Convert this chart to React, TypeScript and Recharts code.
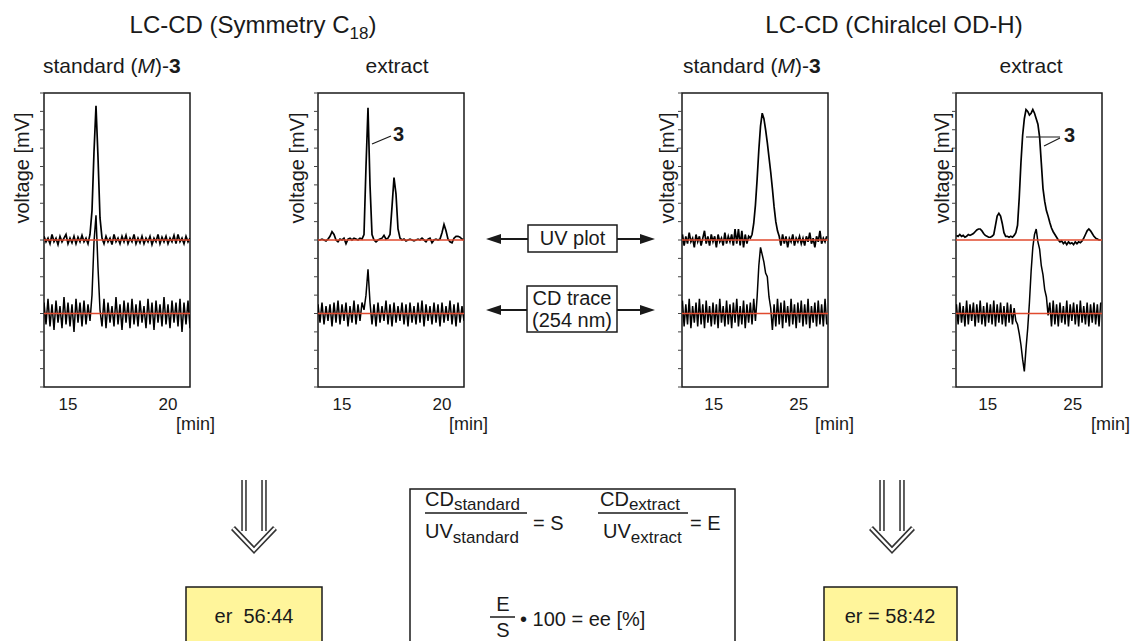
import { LineChart, Line, XAxis, YAxis, ReferenceLine, ReferenceArea } from "recharts";

const FONT = '"Liberation Sans", Arial, Helvetica, sans-serif';
const INK = "#1a1a1a";
const BASE = "#e04a2e";

// sampling times [min]
const T_C18 = [
  13.8, 13.9, 14.0, 14.1, 14.2, 14.3, 14.4, 14.5, 14.6, 14.7,
  14.8, 14.9, 15.0, 15.1, 15.2, 15.3, 15.4, 15.5, 15.6, 15.7,
  15.8, 15.9, 16.0, 16.1, 16.2, 16.3, 16.4, 16.5, 16.6, 16.7,
  16.8, 16.9, 17.0, 17.1, 17.2, 17.3, 17.4, 17.5, 17.6, 17.7,
  17.8, 17.9, 18.0, 18.1, 18.2, 18.3, 18.4, 18.5, 18.6, 18.7,
  18.8, 18.9, 19.0, 19.1, 19.2, 19.3, 19.4, 19.5, 19.6, 19.7,
  19.8, 19.9, 20.0, 20.1, 20.2, 20.3, 20.4, 20.5, 20.6, 20.7,
  20.8, 20.9, 21.0, 21.1,
];
const T_OD = [
  11.3, 11.5, 11.7, 11.9, 12.1, 12.3, 12.5, 12.7, 12.9, 13.1,
  13.3, 13.5, 13.7, 13.9, 14.1, 14.3, 14.5, 14.7, 14.9, 15.1,
  15.3, 15.5, 15.7, 15.9, 16.1, 16.3, 16.5, 16.7, 16.9, 17.1,
  17.3, 17.5, 17.7, 17.9, 18.1, 18.3, 18.5, 18.7, 18.9, 19.1,
  19.3, 19.5, 19.7, 19.9, 20.1, 20.3, 20.5, 20.7, 20.9, 21.1,
  21.3, 21.5, 21.7, 21.9, 22.1, 22.3, 22.5, 22.7, 22.9, 23.1,
  23.3, 23.5, 23.7, 23.9, 24.1, 24.3, 24.5, 24.7, 24.9, 25.1,
  25.3, 25.5, 25.7, 25.9, 26.1, 26.3, 26.5, 26.7, 26.9, 27.1,
  27.3, 27.5, 27.7, 27.9, 28.1, 28.3,
];

// Symmetry C18, standard (M)-3 : UV offset 8, CD offset 4
const UV_STD_C18 = [
  8.2, 7.9, 8.1, 7.8, 8.3, 7.9, 8.1, 7.75, 8.2, 7.9,
  8.1, 8.3, 7.8, 8.1, 7.85, 8.2, 7.8, 8.15, 7.9, 8.25,
  7.9, 8.1, 7.8, 8.3, 9.6, 12.8, 15.3, 12.5, 9.2, 8.1,
  7.8, 8.2, 7.9, 8.1, 7.75, 8.3, 7.9, 8.1, 7.8, 8.2,
  7.9, 8.25, 7.8, 8.1, 7.9, 8.3, 7.8, 8.1, 7.85, 8.2,
  7.8, 8.1, 7.9, 8.2, 7.75, 8.1, 7.9, 8.3, 7.8, 8.15,
  7.9, 8.2, 7.8, 8.1, 7.9, 8.25, 7.8, 8.3, 7.9, 8.1,
  7.8, 8.2, 7.9, 8.1,
];
const CD_STD_C18 = [
  4.6, 3.4, 4.8, 3.3, 4.5, 3.1, 4.7, 3.5, 4.4, 3.2,
  4.9, 3.4, 4.6, 3.3, 4.5, 3.0, 4.8, 3.5, 4.6, 3.3,
  4.7, 3.4, 4.5, 3.6, 5.0, 7.9, 9.35, 6.5, 4.2, 3.3,
  4.8, 3.2, 4.6, 3.5, 4.4, 3.3, 4.9, 3.4, 4.5, 3.1,
  4.7, 3.5, 4.6, 3.2, 4.8, 3.4, 4.5, 3.3, 4.7, 3.5,
  4.4, 3.2, 4.8, 3.4, 4.6, 3.1, 4.7, 3.5, 4.5, 3.3,
  4.9, 3.4, 4.5, 3.2, 4.7, 3.5, 4.6, 3.3, 4.8, 3.0,
  4.6, 3.4, 4.7, 3.2,
];

// Symmetry C18, extract
const UV_EXT_C18 = [
  8.0, 8.0, 8.05, 8.0, 7.95, 8.05, 8.2, 8.45, 8.3, 8.0,
  7.9, 8.05, 8.0, 8.1, 7.8, 8.05, 8.1, 8.0, 8.1, 8.05,
  8.0, 8.1, 8.05, 8.3, 12.0, 15.2, 11.0, 8.3, 8.0, 7.9,
  8.0, 8.05, 8.1, 8.25, 8.05, 8.1, 8.3, 9.8, 11.4, 10.5,
  8.6, 8.1, 8.0, 8.05, 7.95, 8.0, 8.05, 8.0, 7.95, 8.0,
  8.05, 8.0, 8.1, 8.0, 7.9, 8.05, 8.1, 7.85, 8.0, 8.05,
  8.0, 8.05, 8.4, 8.85, 8.5, 8.05, 7.9, 7.85, 8.1, 8.2,
  8.2, 8.15, 8.05, 8.0,
];
const CD_EXT_C18 = [
  4.5, 3.5, 4.6, 3.4, 4.4, 3.6, 4.5, 3.3, 4.6, 3.5,
  4.7, 3.4, 4.5, 3.6, 4.6, 3.3, 4.4, 3.5, 4.7, 3.4,
  4.5, 3.6, 4.6, 4.2, 5.0, 6.4, 4.6, 3.4, 4.5, 3.3,
  4.6, 3.5, 4.4, 3.6, 4.7, 3.4, 4.5, 3.3, 4.6, 3.5,
  4.4, 3.6, 4.6, 3.4, 4.5, 3.3, 4.6, 3.5, 4.4, 3.4,
  4.6, 3.5, 4.7, 3.3, 4.5, 3.6, 4.4, 3.4, 4.6, 3.5,
  4.5, 3.3, 4.6, 3.5, 4.4, 3.6, 4.7, 3.4, 4.5, 3.3,
  4.6, 3.5, 4.4, 3.6,
];

// Chiralcel OD-H, standard (M)-3
const UV_STD_OD = [
  8.3, 7.7, 8.2, 7.8, 8.4, 7.9, 8.1, 7.6, 8.3, 7.9,
  8.2, 7.7, 8.1, 8.5, 7.8, 8.2, 7.7, 8.3, 7.9, 8.2,
  7.6, 8.3, 7.9, 8.1, 7.7, 8.4, 7.8, 8.2, 7.9, 8.3,
  7.7, 8.6, 7.8, 8.6, 7.7, 8.5, 7.6, 8.3, 7.8, 8.2,
  8.1, 8.3, 8.9, 9.9, 11.3, 12.9, 14.2, 14.9, 14.6, 14.0,
  13.3, 12.5, 11.7, 10.8, 9.8, 9.0, 8.5, 8.2, 7.7, 8.3,
  7.8, 8.2, 7.6, 8.1, 7.9, 8.3, 7.7, 8.1, 7.9, 8.2,
  7.8, 8.1, 7.7, 8.2, 7.9, 8.4, 7.8, 8.1, 7.6, 8.2,
  7.9, 8.5, 7.8, 8.1, 7.9, 8.2,
];
const CD_STD_OD = [
  4.7, 3.3, 4.5, 3.4, 4.8, 3.2, 4.4, 3.5, 4.6, 3.3,
  4.8, 3.4, 4.5, 3.2, 4.7, 3.5, 4.4, 3.3, 4.6, 3.4,
  4.5, 3.2, 4.8, 3.5, 4.4, 3.3, 4.7, 3.4, 4.5, 3.2,
  4.6, 3.5, 4.8, 3.3, 4.4, 3.4, 4.7, 3.2, 4.5, 3.5,
  4.6, 3.4, 4.8, 3.6, 4.9, 6.6, 7.6, 7.2, 6.8, 6.2,
  6.0, 4.9, 4.3, 3.1, 4.5, 3.3, 4.8, 3.4, 4.6, 3.2,
  4.7, 3.5, 4.4, 3.3, 4.8, 3.4, 4.5, 3.2, 4.6, 3.5,
  4.7, 3.3, 4.5, 3.4, 4.8, 3.2, 4.4, 3.5, 4.6, 3.3,
  4.7, 3.4, 4.5, 3.3, 4.8, 3.4,
];

// Chiralcel OD-H, extract
const UV_EXT_OD = [
  8.25, 8.2, 8.3, 8.2, 8.25, 8.15, 8.2, 8.3, 8.25, 8.3,
  8.35, 8.45, 8.55, 8.6, 8.6, 8.5, 8.35, 8.25, 8.2, 8.15,
  8.15, 8.2, 8.3, 8.8, 9.3, 9.45, 9.3, 8.9, 8.4, 8.2,
  8.2, 8.15, 8.2, 8.15, 8.25, 8.4, 8.8, 10.3, 12.2, 13.7,
  14.6, 15.1, 15.0, 14.8, 14.9, 15.1, 14.9, 14.6, 14.3, 13.6,
  12.2, 10.8, 10.1, 9.6, 9.3, 8.95, 8.65, 8.45, 8.3, 8.15,
  8.0, 7.9, 7.95, 7.8, 7.9, 7.75, 7.9, 7.8, 7.85, 7.75,
  7.9, 7.8, 7.9, 7.85, 7.95, 8.1, 8.3, 8.5, 8.6, 8.5,
  8.35, 8.2, 8.1, 8.05, 8.0, 8.0,
];
const CD_EXT_OD = [
  4.5, 3.4, 4.6, 3.5, 4.4, 3.3, 4.7, 3.4, 4.5, 3.6,
  4.6, 3.3, 4.5, 3.5, 4.7, 3.4, 4.4, 3.3, 4.6, 3.5,
  4.5, 3.4, 4.7, 3.3, 4.5, 3.5, 4.6, 3.4, 4.4, 3.3,
  4.6, 3.5, 4.5, 3.4, 4.3, 3.6, 3.4, 2.9, 2.3, 1.5,
  0.85, 2.1, 3.2, 4.6, 6.3, 7.6, 8.3, 8.6, 7.9, 7.5,
  6.6, 6.1, 5.3, 4.9, 3.9, 4.6, 3.3, 4.7, 3.4, 4.5,
  3.3, 4.6, 3.5, 4.4, 3.4, 4.7, 3.3, 4.5, 3.6, 4.6,
  3.4, 4.5, 3.3, 4.7, 3.5, 4.4, 3.4, 4.6, 3.3, 4.5,
  3.5, 4.6, 3.4, 4.5, 3.3, 4.6,
];

const Y_TICKS = [0, 1, 2, 3, 4, 5, 6, 7, 8, 9, 10, 11, 12, 13, 14, 15, 16];
const UV_BASE = 8;
const CD_BASE = 4;

type PanelProps = {
  times: number[];
  uv: number[];
  cd: number[];
  domain: [number, number];
  ticks: number[];
  boxLeft: number;
};

function Panel({ times, uv, cd, domain, ticks, boxLeft }: PanelProps) {
  const data = times.map((t, i) => ({ t, uv: uv[i], cd: cd[i] }));
  return (
    <div style={{ position: "absolute", left: boxLeft - 10, top: 83 }}>
      <LineChart width={166} height={360} data={data} margin={{ top: 10, right: 10, bottom: 0, left: 0 }}>
        <XAxis
          dataKey="t"
          type="number"
          domain={domain}
          ticks={ticks}
          allowDataOverflow
          axisLine={false}
          tickLine={false}
          tickMargin={5}
          height={56}
          tick={{ fontSize: 17, fill: INK, fontFamily: FONT }}
        />
        <YAxis
          type="number"
          domain={[0, 16]}
          ticks={Y_TICKS}
          width={10}
          tickSize={4}
          axisLine={false}
          tickLine={{ stroke: "#444" }}
          tickFormatter={() => ""}
        />
        <Line type="linear" dataKey="uv" stroke="#000" strokeWidth={1.7} dot={false} isAnimationActive={false} />
        <Line type="linear" dataKey="cd" stroke="#000" strokeWidth={1.5} dot={false} isAnimationActive={false} />
        <ReferenceLine y={UV_BASE} stroke={BASE} strokeWidth={1.5} />
        <ReferenceLine y={CD_BASE} stroke={BASE} strokeWidth={1.5} />
        <ReferenceArea x1={domain[0]} x2={domain[1]} y1={0} y2={16} fill="none" stroke={INK} strokeWidth={1.5} />
      </LineChart>
    </div>
  );
}

function HollowArrow({ cx }: { cx: number }) {
  const d = `M${cx - 10},480 L${cx - 10},531 M${cx + 10},480 L${cx + 10},531 M${cx - 21},528 L${cx},550 L${cx + 21},528`;
  return (
    <g>
      <path d={d} fill="none" stroke="#333" strokeWidth={5.5} />
      <path d={d} fill="none" stroke="#fff" strokeWidth={2.4} />
    </g>
  );
}

function DoubleArrow({ y }: { y: number }) {
  return (
    <g>
      <line x1={498} y1={y} x2={643} y2={y} stroke={INK} strokeWidth={2} />
      <polygon points={`486,${y} 501,${y - 5} 501,${y + 5}`} fill={INK} />
      <polygon points={`655,${y} 640,${y - 5} 640,${y + 5}`} fill={INK} />
    </g>
  );
}

function VoltageLabel({ x }: { x: number }) {
  return (
    <text x={x} y={168} transform={`rotate(-90 ${x} 168)`} textAnchor="middle" fontSize={20}>
      voltage [mV]
    </text>
  );
}

export default function App() {
  return (
    <div style={{ position: "fixed", left: 0, top: 0, width: 1132, height: 641, background: "#fff", fontFamily: FONT }}>
      <Panel times={T_C18} uv={UV_STD_C18} cd={CD_STD_C18} domain={[13.8, 21.1]} ticks={[15, 20]} boxLeft={44} />
      <Panel times={T_C18} uv={UV_EXT_C18} cd={CD_EXT_C18} domain={[13.8, 21.1]} ticks={[15, 20]} boxLeft={318} />
      <Panel times={T_OD} uv={UV_STD_OD} cd={CD_STD_OD} domain={[11.25, 28.45]} ticks={[15, 25]} boxLeft={682} />
      <Panel times={T_OD} uv={UV_EXT_OD} cd={CD_EXT_OD} domain={[11.25, 28.45]} ticks={[15, 25]} boxLeft={956} />

      <svg width={1132} height={641} style={{ position: "absolute", left: 0, top: 0, pointerEvents: "none" }} fontFamily={FONT} fill={INK}>
        {/* headings */}
        <text x={253} y={33} textAnchor="middle" fontSize={24}>
          LC-CD (Symmetry C<tspan fontSize={17} dy={6}>18</tspan><tspan dy={-6}>)</tspan>
        </text>
        <text x={894} y={33} textAnchor="middle" fontSize={24}>LC-CD (Chiralcel OD-H)</text>
        <text x={43} y={73} fontSize={21}>
          standard (<tspan fontStyle="italic">M</tspan>)-<tspan fontWeight="bold">3</tspan>
        </text>
        <text x={397} y={73} textAnchor="middle" fontSize={21}>extract</text>
        <text x={683} y={73} fontSize={21}>
          standard (<tspan fontStyle="italic">M</tspan>)-<tspan fontWeight="bold">3</tspan>
        </text>
        <text x={1031} y={73} textAnchor="middle" fontSize={21}>extract</text>

        {/* axis titles */}
        <VoltageLabel x={29} />
        <VoltageLabel x={304} />
        <VoltageLabel x={674} />
        <VoltageLabel x={949} />
        <text x={176} y={430} fontSize={18}>[min]</text>
        <text x={449} y={430} fontSize={18}>[min]</text>
        <text x={815} y={430} fontSize={18}>[min]</text>
        <text x={1091} y={430} fontSize={18}>[min]</text>

        {/* peak labels */}
        <line x1={372} y1={144} x2={391} y2={136} stroke={INK} strokeWidth={1.2} />
        <text x={393} y={141} fontSize={20} fontWeight="bold">3</text>
        <line x1={1026} y1={137} x2={1060} y2={137} stroke={INK} strokeWidth={1.2} />
        <line x1={1044} y1={146} x2={1060} y2={138} stroke={INK} strokeWidth={1.2} />
        <text x={1064} y={142} fontSize={20} fontWeight="bold">3</text>

        {/* UV / CD connectors */}
        <DoubleArrow y={239} />
        <rect x={528} y={225} width={89} height={27} fill="#fff" stroke={INK} strokeWidth={1.5} />
        <text x={572.5} y={245} textAnchor="middle" fontSize={20}>UV plot</text>
        <DoubleArrow y={310} />
        <rect x={527} y={286} width={90} height={46} fill="#fff" stroke={INK} strokeWidth={1.5} />
        <text x={572} y={305} textAnchor="middle" fontSize={20}>CD trace</text>
        <text x={572} y={327} textAnchor="middle" fontSize={20}>(254 nm)</text>

        {/* downward arrows */}
        <HollowArrow cx={254} />
        <HollowArrow cx={892} />

        {/* formula box */}
        <rect x={410} y={489} width={325} height={170} fill="#fff" stroke={INK} strokeWidth={1.5} />
        <text x={425} y={506} fontSize={20}>
          CD<tspan fontSize={17} dy={4}>standard</tspan>
        </text>
        <line x1={425} y1={513} x2={527} y2={513} stroke={INK} strokeWidth={1.5} />
        <text x={425} y={538} fontSize={20}>
          UV<tspan fontSize={17} dy={5}>standard</tspan>
        </text>
        <text x={533} y={530} fontSize={20}>= S</text>
        <text x={600} y={506} fontSize={20}>
          CD<tspan fontSize={17} dy={4}>extract</tspan>
        </text>
        <line x1={598} y1={513} x2={688} y2={513} stroke={INK} strokeWidth={1.5} />
        <text x={603} y={538} fontSize={20}>
          UV<tspan fontSize={17} dy={5}>extract</tspan>
        </text>
        <text x={690} y={530} fontSize={20}>= E</text>
        <text x={503} y={611} textAnchor="middle" fontSize={20}>E</text>
        <line x1={490} y1={617} x2={515} y2={617} stroke={INK} strokeWidth={1.5} />
        <text x={503} y={637} textAnchor="middle" fontSize={20}>S</text>
        <text x={520} y={626} fontSize={20}>• 100 = ee [%]</text>

        {/* results */}
        <rect x={186} y={587} width={136} height={70} fill="#fff59b" stroke={INK} strokeWidth={1.5} />
        <text x={254} y={623} textAnchor="middle" fontSize={20} style={{ whiteSpace: "pre" }}>er  56:44</text>
        <rect x={824} y={587} width={133} height={70} fill="#fff59b" stroke={INK} strokeWidth={1.5} />
        <text x={890} y={623} textAnchor="middle" fontSize={20}>er = 58:42</text>
      </svg>
    </div>
  );
}
